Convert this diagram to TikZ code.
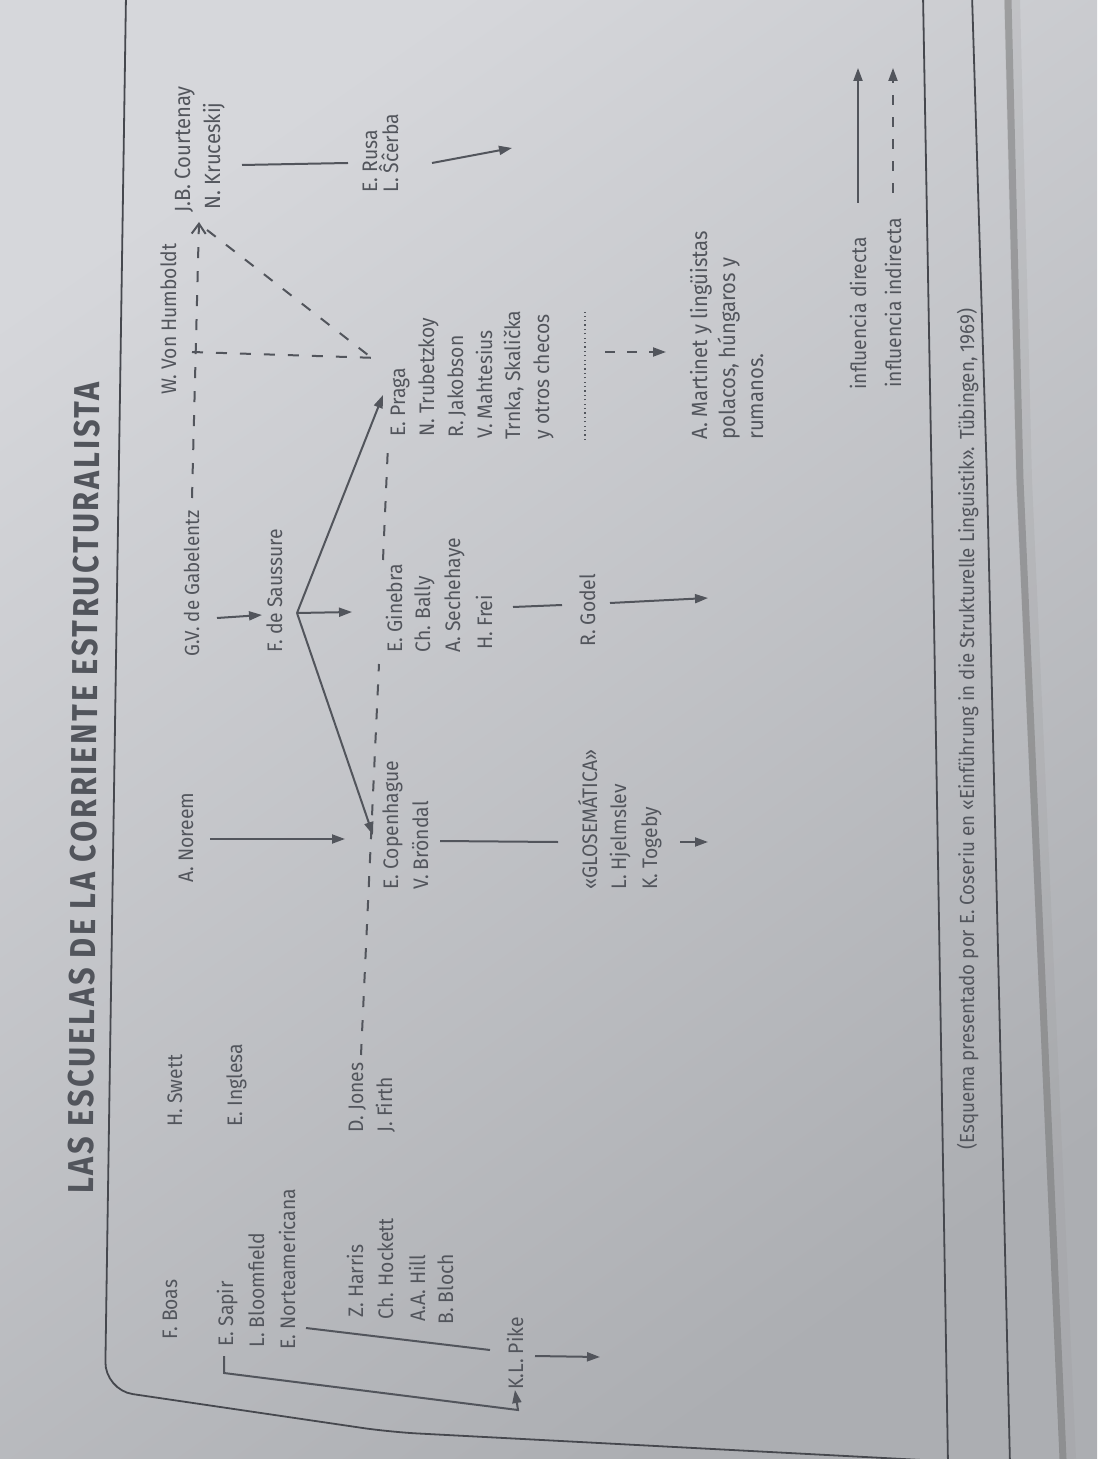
\documentclass[tikz,border=0pt]{standalone}
\usepackage{fontspec}
\setmainfont{Fira Sans}[FakeStretch=0.92]
\newfontfamily\titlefont{Fira Sans}[FakeStretch=0.85,LetterSpace=8]
\usetikzlibrary{arrows.meta}
\definecolor{ink}{RGB}{82,85,92}
\definecolor{paperA}{RGB}{214,215,219}
\definecolor{paperB}{RGB}{172,174,178}
\begin{document}
\begin{tikzpicture}[x=0.5pt,y=-0.5pt,
  lab/.style={rotate=90,anchor=base west,inner sep=0pt,text=ink,font=\fontsize{10.5}{13}\selectfont},
  con/.style={draw=ink,line width=1pt},
  dir/.style={con,-{Triangle[length=6.5pt,width=4.5pt]}},
  ind/.style={con,dash pattern=on 5.5pt off 6.5pt},
  frame/.style={draw=ink!85!black,line width=0.9pt}]
\useasboundingbox (0,0) rectangle (1097,1459);
% background
\shade[top color=paperA,bottom color=paperB,shading angle=35] (0,0) rectangle (1097,1459);
\draw[line width=3.5pt,color=black!60,opacity=0.45] (1008,0) -- (1020,480) -- (1063,1459);
\draw[line width=8pt,color=black!40,opacity=0.2] (1012,0) -- (1024,480) -- (1068,1459);
% frames
\draw[frame,rounded corners=14pt] (126,-5) -- (105,1390) -- (390,1432) -- (960,1462);
\draw[frame] (923,-5) -- (932,500) -- (948,1465);
\draw[frame] (972,-5) -- (987,480) -- (1010,1465);
% title
\node[lab,rotate=-0.5,font=\titlefont\bfseries\fontsize{18}{20}\selectfont] (title) at (93,1194) {LAS ESCUELAS DE LA CORRIENTE ESTRUCTURALISTA};
% american school
\node[lab] (boas) at (177,1340) {F. Boas};
\node[lab] (sapir) at (233,1347) {E. Sapir};
\node[lab] (bloom) at (264,1348) {L. Bloomfield};
\node[lab] (norte) at (295,1350) {E. Norteamericana};
\node[lab] (harris) at (363,1318) {Z. Harris};
\node[lab] (hockett) at (393,1320) {Ch. Hockett};
\node[lab] (hill) at (425,1322) {A.A. Hill};
\node[lab] (bloch) at (453,1325) {B. Bloch};
\node[lab] (pike) at (523,1390) {K.L. Pike};
% english school
\node[lab] (swett) at (182,1127) {H. Swett};
\node[lab] (inglesa) at (242,1127) {E. Inglesa};
\node[lab] (jones) at (363,1133) {D. Jones};
\node[lab] (firth) at (392,1133) {J. Firth};
% copenhagen
\node[lab] (noreem) at (193,883) {A. Noreem};
\node[lab] (copen) at (398,890) {E. Copenhague};
\node[lab] (brondal) at (428,890) {V. Bröndal};
\node[lab] (glose) at (597,890) {«GLOSEMÁTICA»};
\node[lab] (hjelm) at (626,890) {L. Hjelmslev};
\node[lab] (togeby) at (657,890) {K. Togeby};
% geneva
\node[lab,font=\fontsize{10.2}{13}\selectfont] (gabel) at (199,657) {G.V. de Gabelentz};
\node[lab] (saussure) at (282,653) {F. de Saussure};
\node[lab] (ginebra) at (402,653) {E. Ginebra};
\node[lab] (bally) at (430,653) {Ch. Bally};
\node[lab] (seche) at (460,653) {A. Sechehaye};
\node[lab] (frei) at (492,650) {H. Frei};
\node[lab] (godel) at (595,647) {R. Godel};
% prague and russian
\node[lab] (humboldt) at (176,395) {W. Von Humboldt};
\node[lab,font=\fontsize{11}{13}\selectfont] (courtenay) at (190,213) {J.B. Courtenay};
\node[lab,font=\fontsize{11}{13}\selectfont] (kruc) at (220,210) {N. Kruceskij};
\node[lab] (rusa) at (377,193) {E. Rusa};
\node[lab] (scerba) at (398,193) {L. Ŝĉerba};
\node[lab] (praga) at (405,437) {E. Praga};
\node[lab] (trub) at (434,437) {N. Trubetzkoy};
\node[lab] (jakob) at (463,438) {R. Jakobson};
\node[lab] (mahte) at (492,439) {V. Mahtesius};
\node[lab] (trnka) at (520,440) {Trnka, Skalička};
\node[lab] (checos) at (549,440) {y otros checos};
\node[lab,font=\fontsize{11}{13}\selectfont] (martinet) at (707,440) {A. Martinet y lingüistas};
\node[lab,font=\fontsize{11}{13}\selectfont] (polacos) at (735,440) {polacos, húngaros y};
\node[lab,font=\fontsize{11}{13}\selectfont] (rumanos) at (763,440) {rumanos.};
% legend and source
\node[lab] (ldir) at (866,390) {influencia directa};
\node[lab] (lind) at (901,388) {influencia indirecta};
\node[lab,font=\fontsize{10.2}{13}\selectfont] (foot) at (974,1150) {(Esquema presentado por E. Coseriu en «Einführung in die Strukturelle Linguistik». Tübingen, 1969)};
% coordinates for free ends
\coordinate (bk0) at (224,1356);
\coordinate (bk1) at (224,1373);
\coordinate (bk2) at (518,1410);
\coordinate (nl1) at (306,1328);
\coordinate (nl2) at (490,1350);
\coordinate (pk1) at (535,1356);
\coordinate (pk2) at (600,1357);
\coordinate (gb1) at (217,618);
\coordinate (gb2) at (262,615);
\coordinate (sa) at (297,613);
\coordinate (sdn) at (352,612);
\coordinate (scop) at (373,835);
\coordinate (spra) at (383,395);
\coordinate (nr1) at (210,839);
\coordinate (nr2) at (345,839);
\coordinate (br1) at (440,841);
\coordinate (br2) at (558,842);
\coordinate (tg1) at (680,842);
\coordinate (tg2) at (708,842);
\coordinate (fr1) at (513,607);
\coordinate (fr2) at (562,605);
\coordinate (gd1) at (610,603);
\coordinate (gd2) at (708,598);
\coordinate (ct1) at (242,165);
\coordinate (ct2) at (348,163);
\coordinate (sc1) at (432,163);
\coordinate (sc2) at (512,148);
\coordinate (dt1) at (585,440);
\coordinate (dt2) at (585,312);
\coordinate (da1) at (605,352);
\coordinate (da2) at (666,352);
\coordinate (jd1) at (361,1055);
\coordinate (jd2) at (379,664);
\coordinate (jd3) at (383,560);
\coordinate (jd4) at (388,445);
\coordinate (gc1) at (192,498);
\coordinate (gc2) at (199,222);
\coordinate (hp1) at (192,352);
\coordinate (hp2) at (378,358);
\coordinate (cp1) at (207,230);
\coordinate (cp2) at (377,362);
\coordinate (lg1) at (858,203);
\coordinate (lg2) at (858,68);
\coordinate (lg3) at (893,193);
\coordinate (lg4) at (893,68);
% connectors
\draw[dir] (bk0) -- (bk1) -- (bk2) -- (pike.west);
\draw[con] (nl1) -- (nl2);
\draw[dir] (pk1) -- (pk2);
\draw[dir] (gb1) -- (gb2);
\draw[dir] (sa) -- (sdn);
\draw[dir] (sa) -- (scop);
\draw[dir] (sa) -- (spra);
\draw[dir] (nr1) -- (nr2);
\draw[con] (br1) -- (br2);
\draw[dir] (tg1) -- (tg2);
\draw[con] (fr1) -- (fr2);
\draw[dir] (gd1) -- (gd2);
\draw[con] (ct1) -- (ct2);
\draw[dir] (sc1) -- (sc2);
\draw[draw=ink,line width=1pt,dash pattern=on 0.6pt off 1.6pt] (dt1) -- (dt2);
\draw[dir,dash pattern=on 5pt off 6pt] (da1) -- (da2);
\draw[ind] (jd1) -- (jd2);
\draw[ind] (jd3) -- (jd4);
\draw[ind,-{Straight Barb[length=5pt,width=7pt]}] (gc1) -- (gc2);
\draw[ind] (hp1) -- (hp2);
\draw[ind] (cp1) -- (cp2);
\draw[dir] (lg1) -- (lg2);
\draw[dir,dash pattern=on 5pt off 6pt] (lg3) -- (lg4);
\end{tikzpicture}
\end{document}
